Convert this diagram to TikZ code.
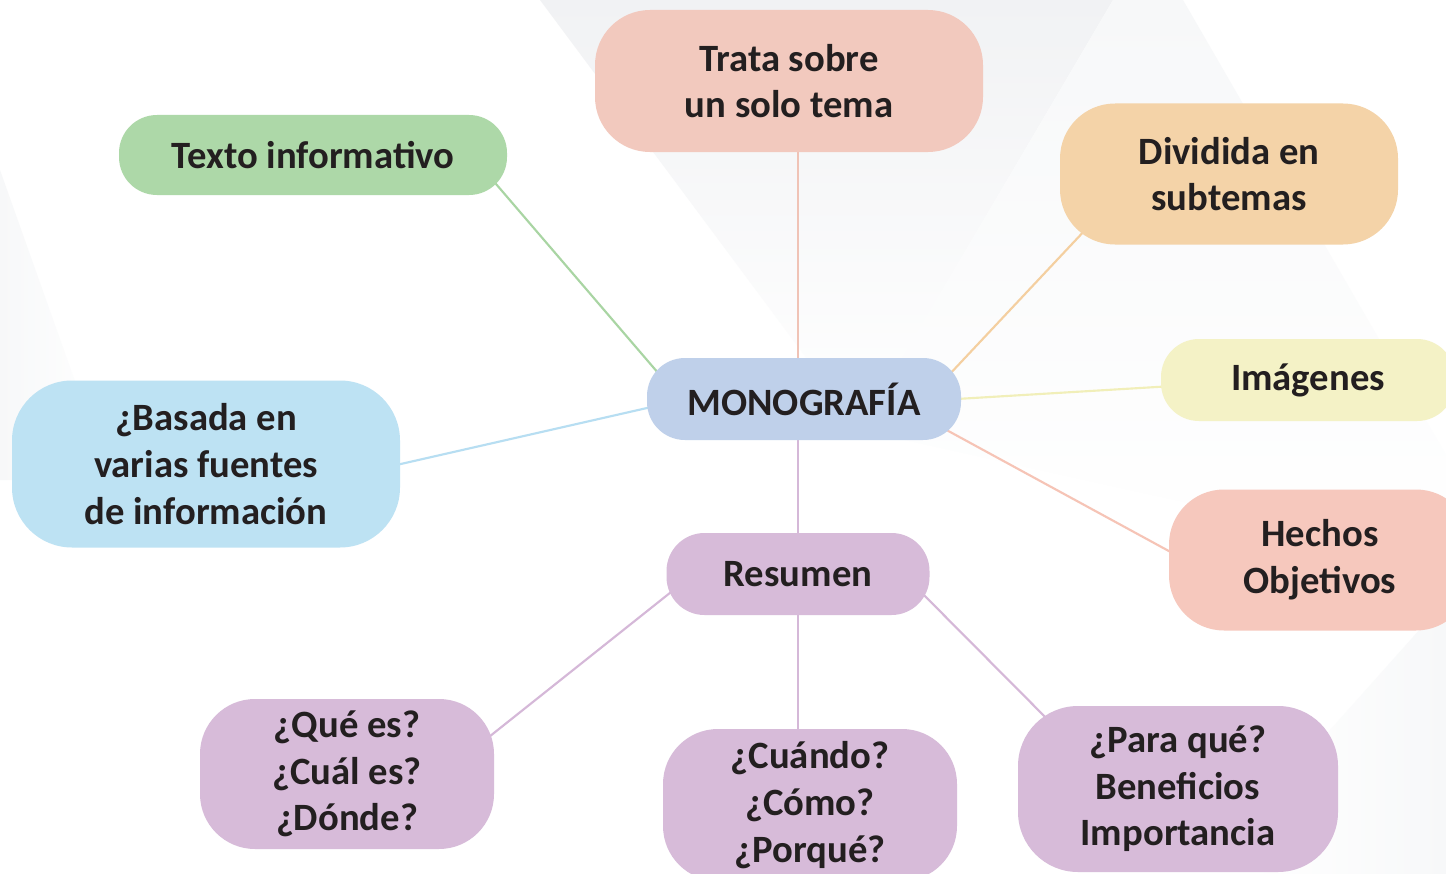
\documentclass[tikz,border=0pt]{standalone}
\usepackage{fontspec}
\setmainfont{Carlito}
\usetikzlibrary{backgrounds}
\definecolor{txt}{HTML}{231F20}
\definecolor{cgreen}{HTML}{ADD8A8}
\definecolor{lgreen}{HTML}{A9D5A3}
\definecolor{cpink}{HTML}{F2C9BE}
\definecolor{lpink}{HTML}{F0C3B6}
\definecolor{corange}{HTML}{F4D3A8}
\definecolor{lorange}{HTML}{F4CFA0}
\definecolor{cyellow}{HTML}{F4F2C6}
\definecolor{lyellow}{HTML}{F1EFB9}
\definecolor{cblue}{HTML}{BDE2F3}
\definecolor{lblue}{HTML}{B7DEF2}
\definecolor{cmono}{HTML}{BFD0EA}
\definecolor{csalmon}{HTML}{F6C8BD}
\definecolor{lsalmon}{HTML}{F6C4B6}
\definecolor{cpurple}{HTML}{D7BBD9}
\definecolor{lpurple}{HTML}{D5B8D8}
\definecolor{bggray}{HTML}{F1F2F4}
\definecolor{bglight}{HTML}{F7F8F9}
\tikzset{
  pill/.style={rectangle, draw=none, inner sep=0pt, align=center, text=txt,
    font=\fontsize{29}{35}\selectfont\bfseries},
  conn/.style={line width=1.6pt}
}
\begin{document}
\begin{tikzpicture}[x=0.75pt,y=-0.75pt]
\useasboundingbox (0,0) rectangle (1446,874);
\clip (0,0) rectangle (1446,874);

% nodes
\node[pill, fill=cpink, minimum width=388*0.75pt, minimum height=142*0.75pt, rounded corners=55*0.75pt] (trata) at (789,81) {Trata sobre\\un solo tema};
\node[pill, fill=cgreen, minimum width=388*0.75pt, minimum height=80*0.75pt, rounded corners=38*0.75pt] (texto) at (313,155) {Texto informativo};
\node[pill, fill=corange, minimum width=338*0.75pt, minimum height=141*0.75pt, rounded corners=55*0.75pt] (divid) at (1229,174) {Dividida en\\subtemas};
\node[pill, fill=cyellow, minimum width=294*0.75pt, minimum height=82*0.75pt, rounded corners=38*0.75pt] (imag) at (1308,380) {Imágenes};
\node[pill, fill=cblue, minimum width=388*0.75pt, minimum height=167*0.75pt, rounded corners=60*0.75pt] (basada) at (206,464) {¿Basada en\\varias fuentes\\de información};
\node[pill, fill=cmono, minimum width=314*0.75pt, minimum height=82*0.75pt, rounded corners=38*0.75pt] (mono) at (804,399) {MONOGRAFÍA};
\node[pill, fill=csalmon, minimum width=302*0.75pt, minimum height=141*0.75pt, rounded corners=55*0.75pt] (hechos) at (1320,560) {Hechos\\Objetivos};
\node[pill, fill=cpurple, minimum width=263*0.75pt, minimum height=82*0.75pt, rounded corners=38*0.75pt] (resumen) at (798,574) {Resumen};
\node[pill, fill=cpurple, minimum width=294*0.75pt, minimum height=150*0.75pt, rounded corners=55*0.75pt] (que) at (347,774) {¿Qué es?\\¿Cuál es?\\¿Dónde?};
\node[pill, fill=cpurple, minimum width=294*0.75pt, minimum height=152*0.75pt, rounded corners=55*0.75pt] (cuando) at (810,805) {¿Cuándo?\\¿Cómo?\\¿Porqué?};
\node[pill, fill=cpurple, minimum width=320*0.75pt, minimum height=166*0.75pt, rounded corners=60*0.75pt] (para) at (1178,789) {¿Para qué?\\Beneficios\\Importancia};

\begin{scope}[on background layer]
  \fill[white] (0,0) rectangle (1446,874);
  % faint background shapes
  \shade[top color=bggray, bottom color=white] (540,0) -- (1113,0) -- (860,430) -- cycle;
  \shade[top color=bglight, bottom color=white] (1113,0) -- (1183,0) -- (1446,455) -- (1446,560) -- (860,430) -- cycle;
  \shade[left color=bglight, right color=white] (0,170) -- (110,480) -- (0,480) -- cycle;
  \shade[right color=bglight, left color=white] (1446,600) -- (1446,874) -- (1250,874) -- (1330,730) -- cycle;
  % connectors
  \draw[conn, lgreen] ([shift={(159,1)}]texto.center) -- ([shift={(-127,-4)}]mono.center);
  \draw[conn, lpink] ([shift={(9,0)}]trata.center) -- ([shift={(-6,0)}]mono.center);
  \draw[conn, lorange] ([shift={(-126,37)}]divid.center) -- ([shift={(128,-6)}]mono.center);
  \draw[conn, lyellow] ([shift={(-118,5)}]imag.center) -- ([shift={(136,1)}]mono.center);
  \draw[conn, lblue] ([shift={(164,7)}]basada.center) -- ([shift={(-124,1.5)}]mono.center);
  \draw[conn, lsalmon] ([shift={(-120,8)}]hechos.center) -- ([shift={(126,22)}]mono.center);
  \draw[conn, lpurple] ([shift={(-6,0)}]mono.center) -- (resumen.center);
  \draw[conn, lpurple] ([shift={(-98,-5)}]resumen.center) -- ([shift={(113,-14)}]que.center);
  \draw[conn, lpurple] (resumen.center) -- ([shift={(-12,0)}]cuando.center);
  \draw[conn, lpurple] ([shift={(102,-3)}]resumen.center) -- ([shift={(-103,-42)}]para.center);
\end{scope}
\end{tikzpicture}
\end{document}
